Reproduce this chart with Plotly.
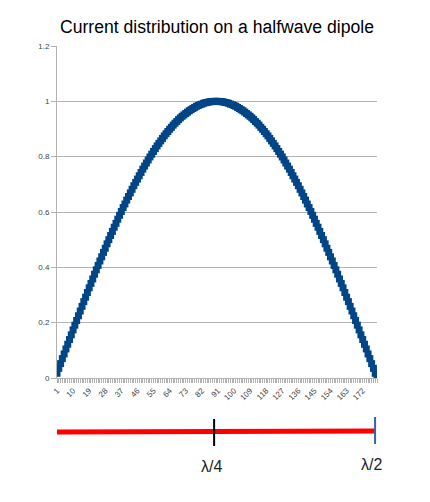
import plotly.graph_objects as go

# Categories (sample index along the dipole)
categories = list(range(1, 181))

# Relative current amplitude (rises 0 -> 1 -> 0)
current = [
    0.017, 0.035, 0.052, 0.070, 0.087, 0.105, 0.122, 0.139, 0.156, 0.174,
    0.191, 0.208, 0.225, 0.242, 0.259, 0.276, 0.292, 0.309, 0.326, 0.342,
    0.358, 0.375, 0.391, 0.407, 0.423, 0.438, 0.454, 0.469, 0.485, 0.500,
    0.515, 0.530, 0.545, 0.559, 0.574, 0.588, 0.602, 0.616, 0.629, 0.643,
    0.656, 0.669, 0.682, 0.695, 0.707, 0.719, 0.731, 0.743, 0.755, 0.766,
    0.777, 0.788, 0.799, 0.809, 0.819, 0.829, 0.839, 0.848, 0.857, 0.866,
    0.875, 0.883, 0.891, 0.899, 0.906, 0.914, 0.921, 0.927, 0.934, 0.940,
    0.946, 0.951, 0.956, 0.961, 0.966, 0.970, 0.974, 0.978, 0.982, 0.985,
    0.988, 0.990, 0.993, 0.995, 0.996, 0.998, 0.999, 0.999, 1.000, 1.000,
    1.000, 0.999, 0.999, 0.998, 0.996, 0.995, 0.993, 0.990, 0.988, 0.985,
    0.982, 0.978, 0.974, 0.970, 0.966, 0.961, 0.956, 0.951, 0.946, 0.940,
    0.934, 0.927, 0.921, 0.914, 0.906, 0.899, 0.891, 0.883, 0.875, 0.866,
    0.857, 0.848, 0.839, 0.829, 0.819, 0.809, 0.799, 0.788, 0.777, 0.766,
    0.755, 0.743, 0.731, 0.719, 0.707, 0.695, 0.682, 0.669, 0.656, 0.643,
    0.629, 0.616, 0.602, 0.588, 0.574, 0.559, 0.545, 0.530, 0.515, 0.500,
    0.485, 0.469, 0.454, 0.438, 0.423, 0.407, 0.391, 0.375, 0.358, 0.342,
    0.326, 0.309, 0.292, 0.276, 0.259, 0.242, 0.225, 0.208, 0.191, 0.174,
    0.156, 0.139, 0.122, 0.105, 0.087, 0.070, 0.052, 0.035, 0.017, 0.000,
]

# Tick labels: every 9th category
label_step = 9
x_tickvals = categories
x_ticktext = [str(c) if (c - 1) % label_step == 0 else "" for c in categories]

y_tickvals = [0, 0.2, 0.4, 0.6, 0.8, 1.0, 1.2]
y_ticktext = ["0", "0.2", "0.4", "0.6", "0.8", "1", "1.2"]

BLUE = "#004586"
GRID = "#b3b3b3"

fig = go.Figure()
fig.add_trace(go.Scatter(
    x=categories, y=current, mode="lines+markers",
    line=dict(color=BLUE, width=2),
    marker=dict(symbol="square", size=7, color=BLUE, line=dict(width=0)),
    showlegend=False, hoverinfo="x+y",
))

fig.update_layout(
    width=422, height=494,
    paper_bgcolor="white", plot_bgcolor="white",
    margin=dict(l=49, r=53, t=38, b=124),
    font=dict(family="Liberation Sans, Arial, sans-serif", color="#333333"),
    title=dict(text="Current distribution on a halfwave dipole",
               x=0.5, xref="paper", y=0.9615, yref="container",
               xanchor="center", yanchor="middle",
               font=dict(size=17.6, color="#000000")),
    xaxis=dict(range=[1, 180], tickmode="array", tickvals=x_tickvals,
               ticktext=x_ticktext, tickangle=-45, ticks="outside",
               ticklen=4, tickcolor=GRID, tickwidth=1,
               tickfont=dict(size=8, color="#444444"),
               showgrid=False, zeroline=False, showline=True,
               linecolor=GRID, linewidth=1),
    yaxis=dict(range=[0, 1.2], tickmode="array", tickvals=y_tickvals,
               ticktext=y_ticktext, ticks="outside", ticklen=5,
               tickcolor=GRID, tickfont=dict(size=8, color="#444444"),
               showgrid=True, gridcolor=GRID, gridwidth=1,
               zeroline=False, showline=True, linecolor=GRID, linewidth=1),
)

# Dipole sketch below the chart
fig.add_shape(type="line", xref="paper", yref="paper",
              x0=0.0, x1=0.994, y0=-0.163, y1=-0.160,
              line=dict(color="#ff0000", width=5))
fig.add_shape(type="line", xref="paper", yref="paper",
              x0=0.491, x1=0.491, y0=-0.1235, y1=-0.2048,
              line=dict(color="#000000", width=2))
fig.add_shape(type="line", xref="paper", yref="paper",
              x0=0.994, x1=0.994, y0=-0.1175, y1=-0.1988,
              line=dict(color="#3465a4", width=2))
fig.add_annotation(text="λ/4", xref="paper", yref="paper", x=0.484, y=-0.268,
                   showarrow=False, xanchor="center", yanchor="middle",
                   font=dict(size=16, color="#222222"))
fig.add_annotation(text="λ/2", xref="paper", yref="paper", x=0.984, y=-0.262,
                   showarrow=False, xanchor="center", yanchor="middle",
                   font=dict(size=16, color="#222222"))

fig.write_html("out.html")
